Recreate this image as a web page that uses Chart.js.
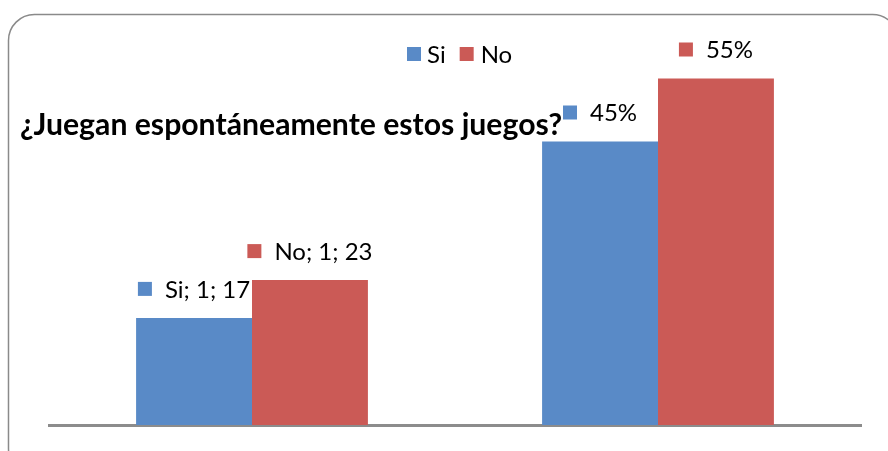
<!DOCTYPE html>
<html>
<head>
<meta charset="utf-8">
<script src="https://cdn.jsdelivr.net/npm/chart.js@4/dist/chart.umd.min.js"></script>
<style>
  html, body { margin: 0; padding: 0; background: #fff; }
  #wrap { width: 888px; height: 451px; }
</style>
</head>
<body>
<div id="wrap"><canvas id="chart" width="888" height="451"></canvas></div>
<script>
// --- données ---
const categories = ['1', '2'];
const siValues = [17, 45];
const noValues = [23, 55];
const siLabels = ['Si; 1; 17', '45%'];
const noLabels = ['No; 1; 23', '55%'];
const seriesNames = ['Si', 'No'];
const titleText = '¿Juegan espontáneamente estos juegos?';
const yMax = 60;

const BLUE = '#598AC7';
const RED = '#CB5A56';
const FONT = 'Lato, "Liberation Sans", sans-serif';

// cadre arrondi + titre + légende
const framePlugin = {
  id: 'frame',
  beforeDraw(chart) {
    const ctx = chart.ctx;
    ctx.save();
    ctx.fillStyle = '#fff';
    ctx.fillRect(0, 0, chart.width, chart.height);
    ctx.strokeStyle = '#8a8a8a';
    ctx.lineWidth = 1.5;
    ctx.beginPath();
    ctx.roundRect(8.5, 14.5, 890, 460, 26);
    ctx.stroke();
    ctx.restore();
  },
  afterDraw(chart) {
    const ctx = chart.ctx;
    ctx.save();
    ctx.font = 'bold 100px ' + FONT;
    const w = ctx.measureText(titleText).width;
    const size = 100 * 542 / w;
    ctx.font = 'bold ' + size.toFixed(1) + 'px ' + FONT;
    ctx.fillStyle = '#000';
    ctx.textBaseline = 'alphabetic';
    ctx.fillText(titleText, 20, 135);

    // légende
    ctx.font = '24px ' + FONT;
    ctx.textBaseline = 'middle';
    const colors = [BLUE, RED];
    const parts = seriesNames.map(n => ctx.measureText(n).width);
    let x = 407;
    const y = 54;
    seriesNames.forEach((n, i) => {
      ctx.fillStyle = colors[i];
      ctx.fillRect(x, y - 7, 14, 14);
      x += 14 + 6 + (i ? 1 : 0);
      ctx.fillStyle = '#000';
      ctx.fillText(n, x, y + 1);
      x += parts[i] + 14;
    });
    ctx.restore();
  }
};

// étiquettes de données (carré + texte)
const labelPlugin = {
  id: 'barLabels',
  afterDatasetsDraw(chart) {
    const ctx = chart.ctx;
    const texts = [siLabels, noLabels];
    ctx.save();
    ctx.font = '24px ' + FONT;
    ctx.textBaseline = 'middle';
    chart.data.datasets.forEach((ds, di) => {
      chart.getDatasetMeta(di).data.forEach((bar, i) => {
        const t = texts[di][i];
        const tw = ctx.measureText(t).width;
        const total = 14 + 13 + tw;
        const x0 = bar.x - total / 2;
        const cy = bar.y - 29;
        ctx.fillStyle = ds.backgroundColor;
        ctx.fillRect(x0, cy - 7, 14, 14);
        ctx.fillStyle = '#000';
        ctx.fillText(t, x0 + 27, cy + 1);
      });
    });
    ctx.restore();
  }
};

new Chart(document.getElementById('chart'), {
  type: 'bar',
  data: {
    labels: categories,
    datasets: [
      { label: seriesNames[0], data: siValues, backgroundColor: BLUE, borderWidth: 0 },
      { label: seriesNames[1], data: noValues, backgroundColor: RED, borderWidth: 0 }
    ]
  },
  options: {
    responsive: false,
    animation: false,
    layout: { padding: { left: 49, right: 27, top: 47, bottom: 26 } },
    datasets: { bar: { categoryPercentage: 0.571, barPercentage: 1 } },
    scales: {
      x: {
        grid: { display: false, drawTicks: false },
        ticks: { display: false },
        border: { display: true, color: '#8c8c8c', width: 3 }
      },
      y: { display: false, min: 0, max: yMax }
    },
    plugins: { legend: { display: false }, tooltip: { enabled: false }, title: { display: false } }
  },
  plugins: [framePlugin, labelPlugin]
});
</script>
</body>
</html>
